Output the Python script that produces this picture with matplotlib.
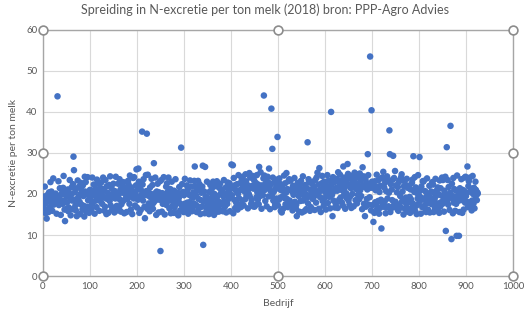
import matplotlib
matplotlib.use("Agg")
import matplotlib.pyplot as plt
import numpy as np

plt.rcParams['font.family'] = ['Lato', 'DejaVu Sans']

# N-excretie per ton melk, per bedrijf (bedrijf 1..925)
n_excretie = [
    18.2, 16.5, 19.4, 21.8, 17.6, 15.3, 18.9, 14.0, 16.1, 19.8, 18.3, 15.6, 20.4, 18.7, 16.8, 22.9, 17.9, 20.6, 18.4, 15.9, 19.3, 23.8, 17.4, 18.8, 19.6,
    17.8, 20.1, 18.5, 15.2, 19.2, 43.8, 18.1, 23.1, 17.3, 19.5, 21.4, 18.6, 14.9, 19.9, 18.2, 20.3, 17.6, 21.5, 24.4, 18.3, 16.2, 13.4, 19.7, 16.3, 20.5,
    17.9, 19.4, 21.1, 15.8, 16.7, 20.2, 23.4, 18.9, 14.8, 19.8, 21.6, 18.4, 16.3, 22.4, 29.1, 25.8, 18.6, 20.4, 17.2, 16.0, 21.3, 14.6, 18.8, 23.3, 17.7,
    19.3, 21.8, 18.1, 15.1, 20.0, 22.7, 17.4, 20.8, 16.2, 22.1, 19.5, 17.1, 14.5, 24.2, 20.6, 22.9, 15.7, 19.9, 16.9, 24.1, 18.5, 20.3, 15.4, 19.7, 21.0,
    18.6, 20.9, 16.3, 17.5, 24.0, 19.8, 18.1, 22.3, 20.2, 15.2, 19.6, 21.3, 18.4, 16.8, 23.5, 19.1, 22.6, 18.7, 20.4, 15.9, 19.9, 21.5, 18.2, 22.8, 19.4,
    17.6, 20.6, 24.0, 19.3, 21.2, 15.9, 16.9, 23.4, 19.0, 15.1, 21.9, 18.8, 20.3, 15.4, 19.5, 22.2, 18.3, 24.3, 17.2, 19.7, 21.4, 16.1, 20.0, 16.6, 22.5,
    19.2, 15.5, 20.7, 18.9, 24.2, 19.4, 17.1, 20.2, 16.0, 22.5, 19.8, 16.7, 23.6, 18.6, 21.1, 15.7, 17.5, 20.4, 22.0, 18.2, 22.9, 21.7, 15.3, 20.1, 18.7,
    20.5, 19.1, 15.6, 21.3, 18.8, 23.2, 22.4, 19.5, 17.6, 24.5, 20.8, 16.2, 21.6, 19.3, 15.1, 20.6, 23.9, 18.9, 24.1, 19.7, 17.2, 20.3, 22.1, 26.0, 16.7,
    21.2, 18.6, 26.2, 23.0, 15.4, 21.8, 19.5, 16.1, 20.9, 19.1, 35.2, 22.3, 18.4, 23.6, 20.1, 16.9, 14.1, 19.8, 24.6, 20.7, 34.7, 16.4, 24.7, 19.6, 17.7,
    20.3, 15.8, 21.6, 19.2, 17.4, 23.7, 18.9, 22.2, 16.4, 17.8, 27.5, 20.1, 18.3, 24.0, 19.4, 14.9, 20.6, 18.7, 22.5, 19.0, 15.5, 20.4, 18.6, 23.1, 6.1,
    19.3, 23.4, 15.7, 20.2, 17.6, 19.7, 24.1, 18.4, 15.0, 20.0, 18.9, 21.8, 17.3, 22.6, 18.2, 20.6, 24.0, 18.7, 16.5, 19.9, 21.2, 15.3, 19.1, 23.0, 18.3,
    17.1, 19.6, 15.4, 20.8, 16.7, 18.8, 23.6, 17.5, 15.3, 19.4, 18.2, 20.3, 14.8, 19.0, 21.7, 17.8, 16.0, 20.1, 31.3, 17.3, 22.4, 16.4, 20.5, 15.6, 19.7,
    17.6, 23.7, 15.9, 20.2, 16.8, 22.1, 17.9, 21.1, 15.2, 16.3, 19.8, 18.0, 23.3, 17.2, 19.5, 21.8, 15.8, 16.6, 19.1, 20.4, 17.7, 23.2, 26.7, 21.9, 17.4,
    19.6, 15.6, 20.9, 17.0, 23.2, 18.8, 16.5, 22.4, 21.4, 15.1, 18.5, 20.3, 16.9, 21.8, 26.9, 7.6, 18.1, 20.6, 15.3, 26.6, 19.4, 16.7, 18.6, 23.0, 17.8,
    19.0, 16.4, 15.1, 20.5, 17.2, 22.2, 15.9, 18.7, 21.2, 17.5, 19.6, 23.0, 16.8, 14.9, 20.0, 17.7, 21.9, 15.6, 18.9, 23.1, 17.1, 19.5, 16.6, 15.7, 21.5,
    18.0, 22.5, 17.4, 20.3, 15.9, 21.1, 17.9, 15.8, 19.4, 23.4, 18.2, 16.9, 19.9, 21.6, 15.5, 20.2, 17.6, 22.8, 22.0, 18.8, 20.5, 22.6, 15.8, 19.6, 21.3,
    27.2, 19.7, 21.5, 27.0, 15.3, 23.9, 18.6, 22.1, 16.6, 21.0, 17.9, 20.6, 22.4, 16.2, 20.1, 24.6, 19.0, 17.4, 20.9, 22.7, 16.8, 21.2, 23.7, 18.4, 24.2,
    21.8, 17.2, 22.5, 20.6, 18.7, 24.8, 23.1, 19.6, 20.9, 22.2, 16.5, 21.1, 20.0, 25.1, 19.4, 24.0, 21.6, 17.6, 18.5, 22.0, 24.4, 17.0, 21.3, 23.4, 16.9,
    21.5, 17.3, 22.7, 19.2, 24.6, 20.4, 18.6, 22.3, 17.5, 26.6, 21.2, 19.5, 25.3, 20.6, 16.4, 22.1, 21.4, 19.7, 23.8, 44.0, 24.5, 21.0, 18.3, 22.6, 23.7,
    17.0, 21.7, 24.2, 22.9, 19.4, 26.2, 21.5, 16.3, 20.8, 22.4, 40.8, 19.6, 31.0, 24.0, 18.4, 20.5, 22.8, 16.8, 17.6, 21.4, 23.5, 18.9, 22.2, 33.9, 17.2,
    21.3, 18.6, 23.8, 22.5, 19.1, 15.9, 20.9, 15.5, 21.6, 19.4, 16.4, 20.7, 24.5, 19.0, 22.6, 17.5, 20.3, 25.1, 18.8, 21.2, 16.8, 23.1, 17.9, 23.6, 18.4,
    21.0, 23.3, 17.6, 17.3, 20.6, 16.0, 22.0, 19.8, 16.9, 23.9, 18.1, 21.5, 16.5, 17.4, 14.6, 20.8, 22.7, 21.9, 19.5, 15.7, 20.1, 22.4, 18.3, 23.2, 21.2,
    15.5, 19.9, 24.3, 18.4, 20.5, 15.8, 19.3, 22.2, 20.0, 16.3, 21.4, 19.1, 32.6, 17.7, 23.6, 22.8, 19.5, 15.9, 21.1, 16.8, 20.3, 22.9, 22.5, 18.8, 20.9,
    19.4, 21.7, 16.1, 23.4, 20.6, 17.9, 24.0, 19.7, 25.2, 20.1, 22.3, 16.4, 26.3, 21.0, 19.2, 15.6, 20.8, 22.6, 24.4, 18.3, 21.5, 17.1, 23.0, 19.0, 21.8,
    20.4, 16.2, 22.1, 19.6, 24.6, 17.8, 20.9, 23.3, 19.3, 21.6, 16.5, 20.5, 40.0, 22.4, 19.8, 14.6, 24.1, 18.4, 20.7, 22.9, 16.7, 21.4, 17.6, 23.7, 23.5,
    20.8, 16.6, 25.3, 21.7, 18.6, 22.5, 24.7, 19.1, 23.2, 21.0, 17.9, 22.0, 17.2, 26.7, 19.7, 24.0, 21.5, 16.4, 22.7, 20.2, 19.0, 23.6, 27.3, 24.9, 18.4,
    22.2, 17.4, 19.3, 23.8, 21.4, 16.6, 22.6, 20.0, 24.5, 21.8, 17.0, 22.9, 25.2, 23.7, 18.5, 21.2, 24.8, 17.7, 22.4, 19.8, 24.1, 21.6, 18.7, 25.0, 20.9,
    23.3, 19.5, 21.9, 16.3, 26.5, 22.1, 24.3, 17.6, 21.7, 14.6, 23.6, 16.9, 22.8, 18.8, 21.1, 29.7, 24.6, 17.4, 22.3, 19.2, 53.5, 21.5, 16.0, 40.4, 23.0,
    17.3, 22.2, 13.2, 21.4, 15.4, 23.1, 18.0, 20.9, 17.5, 24.7, 16.4, 21.8, 18.3, 23.4, 15.2, 20.5, 16.6, 22.0, 18.6, 11.6, 24.0, 17.7, 23.8, 25.4, 16.9,
    21.6, 18.2, 22.8, 15.3, 20.7, 16.7, 24.3, 18.9, 23.2, 17.0, 20.3, 35.5, 29.7, 15.6, 22.4, 16.5, 21.1, 18.5, 23.5, 29.3, 17.2, 23.9, 16.9, 25.6, 18.1,
    22.1, 17.6, 20.4, 16.3, 21.7, 15.9, 22.9, 17.3, 23.4, 19.5, 16.7, 24.1, 24.8, 18.2, 20.6, 23.4, 15.0, 21.9, 18.6, 16.4, 22.3, 19.1, 17.5, 23.7, 15.7,
    21.5, 18.0, 16.3, 22.0, 19.3, 15.4, 21.1, 18.7, 16.6, 22.7, 23.5, 17.7, 29.2, 16.3, 20.5, 24.1, 15.8, 21.6, 17.1, 15.1, 20.2, 18.9, 24.6, 17.6, 19.7,
    29.0, 18.3, 20.9, 15.2, 21.8, 19.0, 16.8, 23.1, 23.0, 23.2, 18.6, 17.2, 20.7, 15.9, 15.6, 19.4, 23.8, 17.8, 16.2, 20.1, 18.5, 22.0, 15.5, 19.2, 18.0,
    20.6, 17.5, 22.9, 18.3, 22.3, 15.6, 20.4, 18.7, 16.5, 23.7, 19.5, 17.3, 20.9, 16.0, 21.6, 17.7, 19.9, 15.4, 23.3, 16.9, 21.4, 18.0, 19.6, 24.0, 17.6,
    23.4, 19.3, 15.7, 20.8, 18.4, 24.2, 11.0, 19.7, 31.4, 18.1, 23.4, 17.4, 21.7, 19.2, 16.1, 20.3, 36.6, 19.8, 9.0, 22.5, 18.9, 15.3, 23.9, 17.9, 21.2,
    19.4, 15.9, 20.9, 17.6, 9.8, 24.5, 19.0, 18.3, 20.4, 9.8, 15.6, 21.4, 19.6, 18.5, 23.6, 20.1, 15.4, 21.0, 19.2, 16.2, 20.7, 24.0, 17.9, 24.2, 19.5,
    18.1, 20.3, 26.7, 16.8, 21.9, 23.1, 18.0, 24.0, 20.6, 17.0, 21.3, 16.0, 18.4, 24.4, 20.0, 17.7, 21.5, 16.5, 18.6, 23.0, 21.0, 19.7, 18.5, 20.4, 20.1,
]
bedrijf = np.arange(1, len(n_excretie) + 1)

x_ticks = list(range(0, 1001, 100))
y_ticks = list(range(0, 61, 10))

blue = '#4472C4'
grey_txt = '#595959'
frame = '#A6A6A6'

fig = plt.figure(figsize=(5.30, 3.21), dpi=100)
ax = fig.add_axes([0.081, 0.140, 0.887, 0.767])

ax.scatter(bedrijf, n_excretie, s=22, color=blue, edgecolors='none', zorder=3)

ax.set_xlim(0, 1000)
ax.set_ylim(0, 60)
ax.set_xticks(x_ticks)
ax.set_yticks(y_ticks)
ax.grid(True, color='#D9D9D9', linewidth=0.8, zorder=0)
ax.tick_params(length=0, labelsize=7, colors=grey_txt, pad=4)
for s in ax.spines.values():
    s.set_color(frame)
    s.set_linewidth(1.0)

# selectiegrepen van de grafiek (Excel)
hx = [0, 500, 1000, 0, 1000, 0, 500, 1000]
hy = [60, 60, 60, 30, 30, 0, 0, 0]
ax.scatter(hx, hy, s=40, facecolor='white', edgecolor='#8C8C8C', linewidth=1.2,
           zorder=5, clip_on=False)

ax.set_xlabel('Bedrijf', fontsize=7.5, color=grey_txt, labelpad=6)
ax.set_ylabel('N-excretie per ton melk', fontsize=7.5, color=grey_txt, labelpad=6)
fig.suptitle('Spreiding in N-excretie per ton melk (2018) bron: PPP-Agro Advies',
             fontsize=9, color=grey_txt, y=0.99)

fig.savefig('out.png', dpi=100)
